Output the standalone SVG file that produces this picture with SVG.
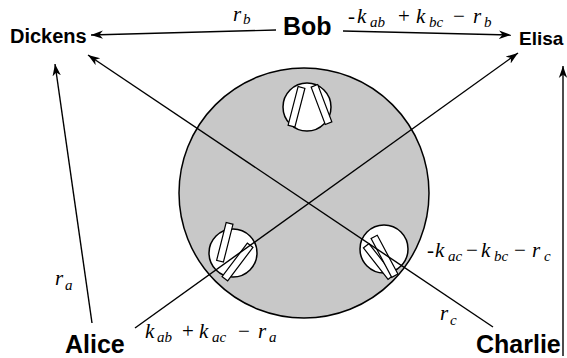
<svg xmlns="http://www.w3.org/2000/svg" width="567" height="358" viewBox="0 0 567 358">
<defs>
<marker id="ah" markerWidth="13" markerHeight="10" refX="12" refY="5" orient="auto" markerUnits="userSpaceOnUse"><path d="M0,0.8 L12,5 L0,9.2 L3.5,5 z" fill="#000"/></marker>
</defs>
<style>
.node{font-family:"Liberation Sans",Arial,sans-serif;font-weight:bold;fill:#000}
.m{font-family:"Liberation Serif","Times New Roman",serif;font-style:italic;font-size:21px;fill:#000}
.s{font-size:15px}
.u{font-style:normal}
.big{fill:#c8c8c8;stroke:#000;stroke-width:1.5}
.sc{fill:#fff;stroke:#000;stroke-width:1.5}
.r{fill:#fff;stroke:#000;stroke-width:1.2}
.e{fill:none;stroke:#000;stroke-width:1.4;marker-end:url(#ah)}
</style>
<g id="disk">
<circle class="big" cx="304" cy="193" r="125"/>
<circle class="sc" cx="307" cy="107" r="24"/>
<rect class="r" x="-3.5" y="-20" width="7" height="40" transform="translate(296.5,106.8) rotate(14.5)"/>
<rect class="r" x="-3.5" y="-20" width="7" height="40" transform="translate(321.5,104.5) rotate(-20.7)"/>
<circle class="sc" cx="233" cy="253" r="24"/>
<rect class="r" x="-3.5" y="-19.5" width="7" height="39" transform="translate(224.8,242.3) rotate(14.2)"/>
<rect class="r" x="-3.5" y="-21" width="7" height="42" transform="translate(237.5,262) rotate(37)"/>
<circle class="sc" cx="384" cy="249" r="24"/>
<rect class="r" x="-3.5" y="-20" width="7" height="40" transform="translate(378.5,261.5) rotate(-38)"/>
<rect class="r" x="-3.5" y="-22" width="7" height="44" transform="translate(384.5,256.3) rotate(-28)"/>
</g>
<g id="connectors">
<line class="e" x1="276" y1="30" x2="91" y2="35"/>
<line class="e" x1="343" y1="31" x2="511" y2="35"/>
<line class="e" x1="92" y1="323" x2="55" y2="64"/>
<line class="e" x1="493" y1="327" x2="88" y2="55"/>
<line class="e" x1="135" y1="328" x2="518" y2="53"/>
<line class="e" x1="563" y1="356" x2="563" y2="66"/>
<text class="m"><tspan x="233" y="21">r</tspan><tspan class="s" x="243" y="24">b</tspan></text>
<text class="m"><tspan class="u" x="348" y="23">-</tspan><tspan x="357" y="23">k</tspan><tspan class="s" x="370" y="27">ab</tspan><tspan class="u" x="398" y="23">+</tspan><tspan x="416" y="23">k</tspan><tspan class="s" x="429" y="27">bc</tspan><tspan class="u" x="453" y="23">−</tspan><tspan x="473" y="23">r</tspan><tspan class="s" x="484" y="27">b</tspan></text>
<text class="m"><tspan x="55" y="285">r</tspan><tspan class="s" x="65" y="290">a</tspan></text>
<text class="m"><tspan x="145" y="338">k</tspan><tspan class="s" x="157" y="342">ab</tspan><tspan class="u" x="182" y="338">+</tspan><tspan x="199" y="338">k</tspan><tspan class="s" x="212" y="342">ac</tspan><tspan class="u" x="238" y="338">−</tspan><tspan x="258" y="338">r</tspan><tspan class="s" x="269" y="342">a</tspan></text>
<text class="m"><tspan class="u" x="427" y="257">-</tspan><tspan x="435" y="257">k</tspan><tspan class="s" x="448" y="261">ac</tspan><tspan class="u" x="466" y="257">−</tspan><tspan x="481" y="257">k</tspan><tspan class="s" x="494" y="261">bc</tspan><tspan class="u" x="514" y="257">−</tspan><tspan x="532" y="257">r</tspan><tspan class="s" x="544" y="261">c</tspan></text>
<text class="m"><tspan x="440" y="320">r</tspan><tspan class="s" x="450" y="325">c</tspan></text>
</g>
<g id="Dickens"><text class="node" x="10" y="43" font-size="20">Dickens</text></g>
<g id="Bob"><text class="node" x="283" y="35" font-size="25">Bob</text></g>
<g id="Elisa"><text class="node" x="519" y="45" font-size="19">Elisa</text></g>
<g id="Alice"><text class="node" x="65" y="353" font-size="25">Alice</text></g>
<g id="Charlie"><text class="node" x="476" y="353" font-size="25">Charlie</text></g>
</svg>
